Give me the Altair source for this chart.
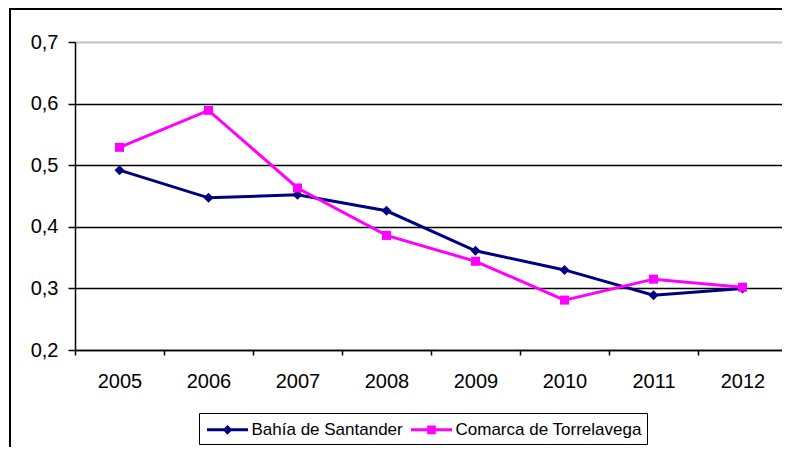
import altair as alt
import pandas as pd

years = [2005, 2006, 2007, 2008, 2009, 2010, 2011, 2012]
bahia = [0.492, 0.447, 0.452, 0.426, 0.361, 0.330, 0.289, 0.300]
comarca = [0.529, 0.589, 0.463, 0.386, 0.344, 0.281, 0.315, 0.302]
series_names = ["Bahía de Santander", "Comarca de Torrelavega"]
series_colors = ["#000080", "#FF00FF"]
y_ticks = [0.2, 0.3, 0.4, 0.5, 0.6, 0.7]
x_edges = [2004.5, 2005.5, 2006.5, 2007.5, 2008.5, 2009.5, 2010.5, 2011.5, 2012.5]

rows = []
for name, vals in zip(series_names, [bahia, comarca]):
    for yr, v in zip(years, vals):
        rows.append({"year": yr, "value": v, "serie": name})
df = pd.DataFrame(rows)

FONT = "Liberation Sans"
W, H = 712, 308

x_enc = alt.X(
    "year:Q",
    scale=alt.Scale(domain=[2004.5, 2012.5], nice=False, zero=False),
    axis=alt.Axis(
        values=x_edges, title=None, grid=False,
        labelExpr="datum.value > 2012 ? '' : format(datum.value + 0.5, 'd')",
        labelOffset=44.5, labelOverlap=False, labelBound=False, labelFlush=False,
        tickSize=5, tickColor="black", tickWidth=1.5,
        domainColor="black", domainWidth=1.5,
        labelFont=FONT, labelFontSize=20, labelColor="black", labelPadding=16,
    ),
)
y_enc = alt.Y(
    "value:Q",
    scale=alt.Scale(domain=[0.2, 0.7], nice=False, zero=False),
    axis=alt.Axis(
        values=y_ticks, title=None,
        labelExpr="replace(format(datum.value, '.1f'), '.', ',')",
        tickSize=7, tickColor="black", tickWidth=1.5,
        domainColor="black", domainWidth=1.5,
        grid=True,
        gridColor={"condition": {"test": "datum.value >= 0.69", "value": "#c0c0c0"}, "value": "black"},
        gridWidth={"condition": {"test": "datum.value >= 0.69", "value": 2}, "value": 1.3},
        labelFont=FONT, labelFontSize=20, labelColor="black", labelPadding=10,
    ),
)

# legend symbols: a short line with the series marker in the middle
path_bahia = "M-2.05,0L2.05,0M-0.28,0L0,-0.28L0.28,0L0,0.28Z"
path_comarca = "M-2.05,0L2.05,0M-0.28,-0.28L0.28,-0.28L0.28,0.28L-0.28,0.28Z"

leg = alt.Legend(
    title=None, orient="none", legendX=124, legendY=371, direction="horizontal",
    strokeColor="black", fillColor="white", padding=5,
    symbolSize=400, symbolStrokeWidth=3, symbolOpacity=1, symbolOffset=12,
    labelFont=FONT, labelFontSize=17, labelColor="black", labelLimit=400,
    labelOffset=12.5, columnPadding=2,
)

lines = alt.Chart(df).mark_line(strokeWidth=3).encode(
    x=x_enc, y=y_enc,
    color=alt.Color("serie:N", scale=alt.Scale(domain=series_names, range=series_colors), legend=None),
)

pts_b = alt.Chart(df).transform_filter(alt.datum.serie == series_names[0]).mark_point(
    shape="diamond", filled=True, size=100, opacity=1, color=series_colors[0]
).encode(x="year:Q", y="value:Q")
pts_c = alt.Chart(df).transform_filter(alt.datum.serie == series_names[1]).mark_point(
    shape="square", filled=True, size=81, opacity=1, color=series_colors[1]
).encode(x="year:Q", y="value:Q")

legend_layer = alt.Chart(df).mark_point(
    filled=True, opacity=0, strokeWidth=3, size=100
).encode(
    x="year:Q", y="value:Q",
    fill=alt.Fill("serie:N", scale=alt.Scale(domain=series_names, range=series_colors), legend=leg),
    stroke=alt.Stroke("serie:N", scale=alt.Scale(domain=series_names, range=series_colors), legend=leg),
    shape=alt.Shape("serie:N", scale=alt.Scale(domain=series_names, range=[path_bahia, path_comarca]), legend=leg),
)

one = pd.DataFrame({"a": [0]})
frame_left = alt.Chart(one).mark_rule(color="black", strokeWidth=2).encode(
    x=alt.value(-65), y=alt.value(-34), y2=alt.value(405))
frame_top = alt.Chart(one).mark_rule(color="black", strokeWidth=2).encode(
    x=alt.value(-66), x2=alt.value(715), y=alt.value(-33))

chart = alt.layer(legend_layer, lines, pts_b, pts_c, frame_left, frame_top).properties(
    width=W, height=H,
    autosize=alt.AutoSizeParams(type="none"),
    padding={"left": 67, "top": 34, "right": -5, "bottom": 97},
).configure_view(stroke=None).configure(background="white")

chart.save("out.html", embed_options={"renderer": "svg", "actions": False})
